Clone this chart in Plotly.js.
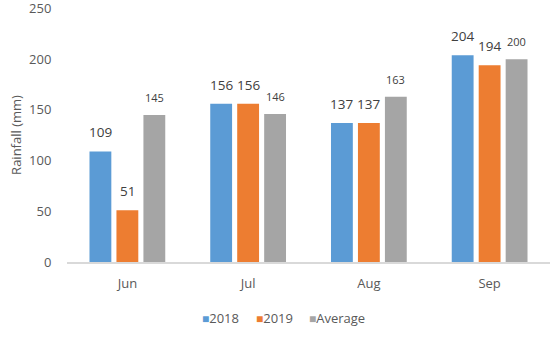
<!DOCTYPE html>
<html><head><meta charset="utf-8">
<script src="https://cdn.plot.ly/plotly-3.0.1.min.js"></script>
<style>html,body{margin:0;padding:0;background:#fff}</style>
</head><body>
<div id="chart" style="width:550px;height:338px"></div>
<script>
const months = ["Jun", "Jul", "Aug", "Sep"];
const seriesNames = ["2018", "2019", "Average"];
const rain2018 = [109, 156, 137, 204];
const rain2019 = [51, 156, 137, 194];
const rainAvg = [145, 146, 163, 200];
const colors = ["#5B9BD5", "#ED7D31", "#A5A5A5"];
const labelSizes = [13.5, 13.5, 11];

const series = [rain2018, rain2019, rainAvg];
const bargap = 0.33, groupgap = 0.19;
const W = 550, H = 338, mL = 67, mR = 0, mT = 8, mB = 76;
const FONT = "Open Sans, Liberation Sans, sans-serif";

const traces = series.map((vals, i) => ({
  type: "bar", name: seriesNames[i], x: months, y: vals,
  marker: {color: colors[i]}, hoverinfo: "none", showlegend: false
}));

const plotW = W - mL - mR;
const slot = plotW / months.length * (1 - bargap) / 3;
const annotations = [];
series.forEach((vals, i) => {
  vals.forEach((v, j) => {
    annotations.push({
      x: months[j], y: v, xref: "x", yref: "y", text: String(v),
      showarrow: false, yanchor: "bottom", xanchor: "center",
      xshift: (i - 1) * slot, yshift: 8,
      font: {family: FONT, size: labelSizes[i], color: "#404040"}
    });
  });
});
// compact legend drawn as text entries
const legendX = [200, 254, 307];
seriesNames.forEach((name, i) => {
  annotations.push({
    xref: "paper", yref: "paper", x: (legendX[i] - mL) / plotW, y: (H - mB - 318) / (H - mT - mB),
    xanchor: "left", yanchor: "middle", showarrow: false,
    text: '<span style="color:' + colors[i] + ';font-size:12px">■</span>' + name,
    font: {family: FONT, size: 13, color: "#595959"}
  });
});

const layout = {
  width: W, height: H,
  margin: {l: mL, r: mR, t: mT, b: mB},
  paper_bgcolor: "#fff", plot_bgcolor: "#fff",
  barmode: "group", bargap: bargap, bargroupgap: groupgap,
  font: {family: FONT, color: "#595959", size: 13},
  xaxis: {showgrid: false, showline: true, linecolor: "#D9D9D9", linewidth: 1.5,
          ticks: "outside", ticklen: 9, tickcolor: "rgba(0,0,0,0)", tickfont: {size: 13}, fixedrange: true},
  yaxis: {range: [0, 250.5], tickvals: [0, 50, 100, 150, 200, 250], showgrid: false, zeroline: false, showline: false,
          ticks: "outside", ticklen: 12, tickcolor: "rgba(0,0,0,0)", tickfont: {size: 13},
          ticklabeloverflow: "allow",
          title: {text: "Rainfall (mm)", font: {size: 13, color: "#595959"}, standoff: 4}, fixedrange: true},
  annotations: annotations,
  showlegend: false
};

Plotly.newPlot("chart", traces, layout, {displayModeBar: false, staticPlot: true});
</script>
</body></html>
